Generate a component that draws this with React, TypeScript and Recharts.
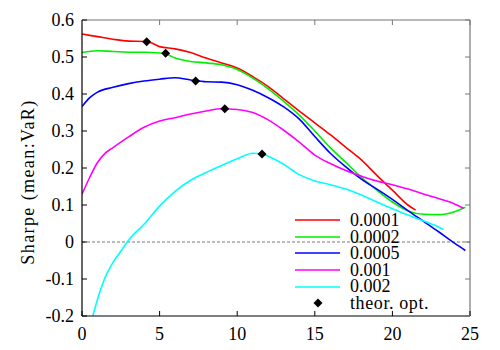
import React from "react";
import {
  ComposedChart,
  Line,
  Scatter,
  XAxis,
  YAxis,
  ReferenceLine,
  Legend,
} from "recharts";

const FONT = "Times";

const xTicks = [0, 5, 10, 15, 20, 25];
const yTicks = [-0.2, -0.1, 0, 0.1, 0.2, 0.3, 0.4, 0.5, 0.6];

const seriesNames = ["0.0001", "0.0002", "0.0005", "0.001", "0.002"];
const seriesColors = ["#ff0000", "#00ee00", "#0000ff", "#ff00ff", "#00ffff"];

const x0001 = [0, 1, 2, 3, 4, 4.5, 5, 6, 7, 8, 9, 10, 11, 12, 13, 14, 15, 16, 17, 18, 19, 20, 21, 21.5];
const y0001 = [0.562, 0.555, 0.548, 0.543, 0.542, 0.538, 0.528, 0.522, 0.512, 0.497, 0.484, 0.47, 0.447, 0.42, 0.387, 0.354, 0.322, 0.29, 0.256, 0.222, 0.18, 0.14, 0.1, 0.086];

const x0002 = [0, 1, 2, 3, 4, 5, 5.5, 6, 7, 8, 9, 10, 11, 12, 13, 14, 15, 16, 17, 18, 19, 20, 21, 22, 23, 24, 24.7];
const y0002 = [0.512, 0.517, 0.515, 0.513, 0.513, 0.511, 0.507, 0.497, 0.488, 0.484, 0.479, 0.466, 0.443, 0.414, 0.38, 0.343, 0.3, 0.255, 0.215, 0.175, 0.14, 0.108, 0.084, 0.075, 0.074, 0.082, 0.094];

const x0005 = [0, 0.5, 1, 2, 3, 4, 5, 6, 7, 8, 9, 10, 11, 12, 13, 14, 15, 16, 17, 18, 19, 20, 21, 22, 23, 24, 24.7];
const y0005 = [0.366, 0.39, 0.405, 0.418, 0.428, 0.435, 0.44, 0.444, 0.438, 0.433, 0.432, 0.425, 0.41, 0.39, 0.365, 0.332, 0.285, 0.24, 0.203, 0.17, 0.143, 0.115, 0.085, 0.056, 0.027, -0.003, -0.023];

const x001 = [0, 0.5, 1, 1.5, 2, 3, 4, 5, 6, 7, 8, 9, 10, 11, 12, 13, 14, 15, 16, 17, 18, 19, 20, 21, 22, 23, 24, 24.6];
const y001 = [0.129, 0.175, 0.215, 0.24, 0.255, 0.284, 0.31, 0.327, 0.336, 0.346, 0.354, 0.36, 0.358, 0.35, 0.33, 0.302, 0.27, 0.235, 0.212, 0.193, 0.178, 0.165, 0.155, 0.143, 0.13, 0.117, 0.103, 0.091];

const x002 = [0.7, 1, 1.5, 2, 2.5, 3, 4, 5, 6, 7, 8, 9, 10, 11, 11.6, 12, 13, 14, 15, 16, 17, 18, 19, 20, 21, 22, 23, 23.3];
const y002 = [-0.2, -0.155, -0.095, -0.055, -0.025, 0.005, 0.048, 0.097, 0.137, 0.167, 0.188, 0.207, 0.225, 0.24, 0.238, 0.232, 0.21, 0.182, 0.165, 0.155, 0.143, 0.127, 0.108, 0.09, 0.073, 0.057, 0.04, 0.034];

const optX = [4.17, 5.39, 7.32, 9.2, 11.6];
const optY = [0.541, 0.51, 0.435, 0.36, 0.238];

const toPoints = (xs: number[], ys: number[]) => xs.map((x, i) => ({ x, y: ys[i] }));

const seriesData = [
  toPoints(x0001, y0001),
  toPoints(x0002, y0002),
  toPoints(x0005, y0005),
  toPoints(x001, y001),
  toPoints(x002, y002),
];
const optData = toPoints(optX, optY);

const PLOT_W = 388;
const PLOT_H = 296;

const XTick = (props: any) => {
  const { x, y, payload } = props;
  return (
    <g>
      <line x1={x} y1={y} x2={x} y2={y - 5} stroke="#000" strokeWidth={1} />
      <line x1={x} y1={y - PLOT_H} x2={x} y2={y - PLOT_H + 5} stroke="#777" strokeWidth={1} />
      <text x={x} y={y + 24} textAnchor="middle" fill="#000" style={{ fontFamily: FONT, fontSize: 18 }}>
        {payload.value}
      </text>
    </g>
  );
};

const YTick = (props: any) => {
  const { x, y, payload } = props;
  const v = payload.value;
  const label = Math.abs(v) < 1e-9 ? "0" : v.toFixed(1);
  return (
    <g>
      <line x1={x} y1={y} x2={x + 5} y2={y} stroke="#000" strokeWidth={1} />
      <line x1={x + PLOT_W} y1={y} x2={x + PLOT_W - 5} y2={y} stroke="#777" strokeWidth={1} />
      <text x={x - 8} y={y + 6} textAnchor="end" fill="#000" style={{ fontFamily: FONT, fontSize: 18 }}>
        {label}
      </text>
    </g>
  );
};

const YLabel = (props: any) => {
  const { viewBox } = props;
  const cx = viewBox.x + 6;
  const cy = viewBox.y + viewBox.height / 2 + 14;
  return (
    <text
      x={cx}
      y={cy}
      textAnchor="middle"
      dominantBaseline="central"
      transform={`rotate(-90, ${cx}, ${cy})`}
      fill="#000"
      style={{ fontFamily: FONT, fontSize: 18, letterSpacing: 1.4 }}
    >
      Sharpe (mean:VaR)
    </text>
  );
};

const Diamond = (props: any) => {
  const { cx, cy } = props;
  const r = 4.5;
  return (
    <polygon
      points={`${cx},${cy - r} ${cx + r},${cy} ${cx},${cy + r} ${cx - r},${cy}`}
      fill="#000"
    />
  );
};

const LegendBox = () => (
  <div style={{ fontFamily: FONT, fontSize: 18, lineHeight: "16.6px", color: "#000" }}>
    {seriesNames.map((name, i) => (
      <div key={name} style={{ display: "flex", alignItems: "center", height: 16.6 }}>
        <svg width={55} height={16} style={{ display: "block" }}>
          <line x1={5} x2={50} y1={8} y2={8} stroke={seriesColors[i]} strokeWidth={1.6} />
        </svg>
        <span style={{ marginLeft: 5 }}>{name}</span>
      </div>
    ))}
    <div style={{ display: "flex", alignItems: "center", height: 16.6 }}>
      <svg width={55} height={16} style={{ display: "block" }}>
        <polygon points="28,3.5 32.5,8 28,12.5 23.5,8" fill="#000" />
      </svg>
      <span style={{ marginLeft: 5, letterSpacing: 0.6 }}>theor. opt.</span>
    </div>
  </div>
);

export default function App() {
  return (
    <div style={{ position: "absolute", left: 0, top: 0, width: 500, height: 350, background: "#fff" }}>
      <ComposedChart width={500} height={350} margin={{ top: 20, right: 30, bottom: 4, left: 22 }}>
        <XAxis
          type="number"
          dataKey="x"
          domain={[0, 25]}
          ticks={xTicks}
          allowDataOverflow
          height={30}
          tickLine={false}
          tickSize={0}
          tickMargin={0}
          tick={<XTick />}
          axisLine={{ stroke: "#000", strokeWidth: 1.2 }}
          interval={0}
        />
        <YAxis
          type="number"
          domain={[-0.2, 0.6]}
          ticks={yTicks}
          allowDataOverflow
          width={60}
          tickLine={false}
          tickSize={0}
          tickMargin={0}
          tick={<YTick />}
          axisLine={{ stroke: "#000", strokeWidth: 1.2 }}
          interval={0}
          label={<YLabel />}
        />
        <ReferenceLine y={0.6} stroke="#777" strokeWidth={1.2} />
        <ReferenceLine x={25} stroke="#777" strokeWidth={1.2} />
        <ReferenceLine y={0} stroke="#555" strokeWidth={0.8} strokeDasharray="3 2" />
        {seriesData.map((d, i) => (
          <Line
            key={seriesNames[i]}
            data={d}
            dataKey="y"
            type="monotone"
            stroke={seriesColors[i]}
            strokeWidth={1.6}
            dot={false}
            isAnimationActive={false}
            name={seriesNames[i]}
          />
        ))}
        <Scatter data={optData} dataKey="y" shape={<Diamond />} isAnimationActive={false} name="theor. opt." />
        <Legend
          layout="vertical"
          align="center"
          verticalAlign="middle"
          content={() => <LegendBox />}
          wrapperStyle={{ position: "absolute", left: 290, top: 212, width: 180, height: 110 }}
        />
      </ComposedChart>
    </div>
  );
}
